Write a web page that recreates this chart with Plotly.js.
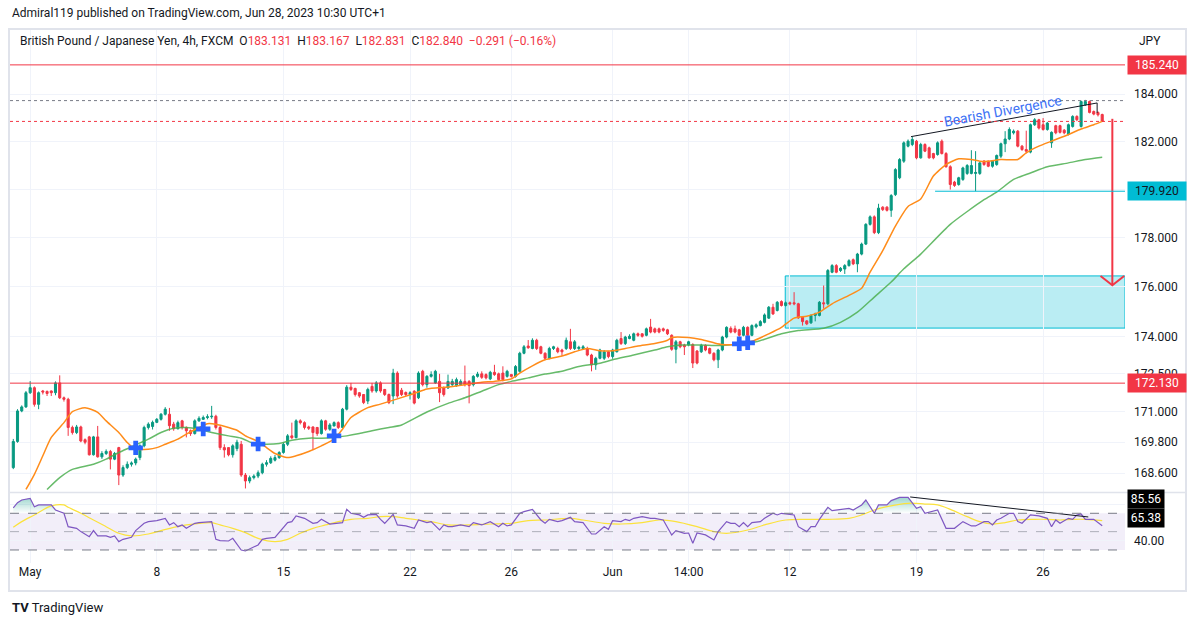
<!DOCTYPE html>
<html>
<head>
<meta charset="utf-8">
<script src="https://cdn.plot.ly/plotly-3.0.1.min.js"></script>
<style>
  html, body { margin: 0; padding: 0; background: #ffffff; }
  #chart { width: 1195px; height: 627px; }
</style>
</head>
<body>
<div id="chart"></div>
<script>
const opens = [
  168.81,169.83,171.03,171.19,171.75,171.95,171.29,171.82,171.80,171.82,
  171.75,172.14,171.55,171.49,170.38,170.18,170.40,169.90,170.01,169.31,
  170.01,169.23,169.36,169.44,169.14,169.59,168.52,168.81,168.94,168.99,
  169.20,169.66,170.38,170.42,170.58,170.70,170.90,170.90,170.51,170.33,
  170.64,170.38,170.25,170.14,170.64,170.70,170.77,170.80,170.82,170.38,
  169.59,169.59,169.31,169.55,169.72,168.52,168.29,168.42,168.48,168.61,
  168.94,169.00,169.10,169.20,169.40,169.72,170.05,169.98,170.64,170.57,
  170.40,170.40,170.38,170.14,170.64,170.31,170.44,170.57,170.38,171.10,
  171.97,171.92,171.75,171.68,171.42,172.00,171.82,172.14,171.88,171.68,
  171.62,172.53,171.85,171.76,171.68,171.81,171.55,172.60,172.07,172.40,
  172.14,172.20,171.94,171.94,172.07,172.03,172.07,172.20,172.20,172.07,
  172.40,172.50,172.47,172.30,172.56,172.50,172.53,172.40,172.47,172.40,
  172.60,173.32,173.61,173.51,173.84,173.58,173.32,173.12,173.51,173.51,
  173.45,173.51,173.78,173.51,173.51,173.51,173.51,173.25,172.86,173.12,
  173.12,173.38,173.19,173.38,173.91,173.71,173.91,173.84,174.10,174.10,
  174.04,174.37,174.30,174.30,174.30,174.26,174.04,173.48,173.78,173.65,
  173.65,173.67,173.41,173.38,173.64,173.51,173.32,173.06,173.45,173.97,
  174.32,174.30,174.26,174.04,174.36,174.04,174.38,174.43,174.56,174.73,
  175.17,175.04,175.40,175.24,175.35,175.35,175.31,174.77,174.62,174.54,
  174.84,174.84,175.35,175.31,176.59,176.86,176.66,176.72,176.86,177.10,
  176.93,177.33,177.74,178.55,178.86,178.21,179.26,179.26,179.13,179.78,
  180.48,181.17,181.80,181.87,182.01,181.31,181.87,181.73,181.49,181.45,
  182.01,181.49,180.94,180.30,180.20,180.41,180.66,180.66,180.66,180.66,
  181.17,181.17,180.96,181.03,181.38,181.90,182.10,182.36,182.43,181.80,
  181.66,181.55,182.70,182.91,182.70,182.50,181.94,182.66,182.66,182.47,
  182.29,182.63,183.05,182.63,183.54,183.68,183.26,183.22,183.131
];
const highs = [
  169.93,171.10,171.25,171.82,172.21,172.00,171.80,171.86,171.84,171.84,
  172.20,172.44,171.60,171.55,170.45,170.48,170.45,169.95,170.05,170.05,
  170.44,169.45,169.52,169.50,169.42,169.62,168.90,169.05,169.05,169.20,
  169.72,170.45,170.58,170.65,170.75,170.95,171.18,171.15,170.60,170.65,
  170.68,170.42,170.30,170.70,170.82,170.85,170.90,171.23,170.88,170.45,
  169.72,169.60,169.72,169.90,169.85,168.60,168.50,168.55,168.70,169.00,
  169.10,169.25,169.30,169.45,169.80,170.12,170.57,170.70,170.70,170.62,
  170.45,170.42,170.40,170.70,170.68,170.55,170.62,170.62,171.15,172.05,
  172.14,171.95,171.78,171.70,171.95,172.14,172.21,172.20,171.90,171.72,
  172.70,172.60,171.94,171.80,171.81,171.85,172.60,172.66,172.45,172.60,
  172.66,172.50,172.00,172.47,172.30,172.35,172.28,172.83,172.25,172.45,
  172.58,172.60,172.52,172.62,172.86,172.55,172.80,172.66,172.50,172.85,
  173.38,173.65,173.85,173.92,173.90,173.62,173.36,173.58,173.62,173.58,
  173.50,173.95,174.30,173.85,173.62,173.65,173.58,173.30,173.18,173.50,
  173.45,173.42,173.50,173.90,174.17,174.02,174.08,174.15,174.15,174.12,
  174.35,174.70,174.35,174.35,174.35,174.30,174.08,173.85,173.82,173.70,
  173.82,173.72,173.45,173.70,173.68,173.55,173.36,173.50,174.02,174.40,
  174.40,174.43,174.30,174.42,174.40,174.48,174.52,174.65,174.92,175.22,
  175.31,175.42,175.45,175.40,175.40,175.78,175.35,174.80,174.65,174.88,
  174.95,175.42,176.05,176.72,176.92,176.92,176.80,176.92,177.12,177.15,
  177.38,177.80,178.60,178.92,178.92,179.40,179.30,179.30,179.80,180.88,
  181.30,182.00,182.08,182.19,182.06,181.94,181.92,181.78,181.52,182.00,
  182.08,181.55,181.00,180.35,180.52,180.94,181.05,181.63,181.59,181.15,
  181.22,181.20,181.22,181.45,181.95,182.43,182.59,182.50,182.48,181.85,
  182.45,182.75,182.98,182.95,182.98,182.82,182.42,182.70,182.70,182.52,
  182.75,183.10,183.10,183.72,183.75,183.72,183.30,183.26,183.167
];
const lows = [
  168.75,169.78,170.98,171.15,171.70,171.20,171.10,171.68,171.62,171.62,
  171.65,171.50,171.40,170.05,170.10,170.12,169.80,169.72,169.28,169.28,
  169.20,169.15,169.30,168.74,169.10,168.13,168.45,168.75,168.85,168.90,
  169.10,169.60,170.30,170.30,170.55,170.65,170.85,170.25,170.25,170.30,
  170.30,169.99,170.05,170.10,170.60,170.68,170.70,170.72,170.30,169.50,
  169.20,169.25,169.20,169.45,168.45,168.00,168.20,168.35,168.40,168.55,
  168.85,168.95,169.05,169.15,169.35,169.65,169.92,169.95,170.50,170.30,
  170.28,169.49,170.05,170.10,170.25,170.25,170.42,170.32,170.35,171.05,
  171.82,171.60,171.55,171.30,171.30,171.75,171.75,171.75,171.62,171.30,
  171.30,171.55,171.62,171.62,171.48,171.29,171.50,172.00,171.95,172.35,
  172.10,171.38,171.60,171.90,172.00,171.98,172.02,172.00,171.33,172.00,
  172.35,172.30,172.28,172.25,172.42,172.22,172.20,172.35,172.35,172.35,
  172.55,173.28,173.50,173.48,173.45,173.28,173.05,173.08,173.45,173.32,
  173.22,173.45,173.45,173.45,173.45,173.48,173.20,172.60,172.66,173.08,
  173.05,173.12,173.10,173.35,173.65,173.65,173.88,173.80,173.98,173.95,
  174.00,174.12,174.12,174.12,174.18,174.05,173.42,172.92,173.52,173.25,
  173.60,172.73,172.88,173.33,173.40,173.28,173.00,172.73,173.40,173.92,
  174.12,174.12,173.98,174.00,173.98,174.00,174.32,174.40,174.52,174.70,
  174.86,175.00,175.20,175.20,175.25,175.25,174.70,174.43,174.45,174.50,
  174.60,174.80,175.11,175.25,176.55,176.55,176.60,176.52,176.82,176.88,
  176.59,177.28,177.70,178.50,178.15,178.15,179.10,179.08,178.86,179.72,
  180.42,181.10,181.75,181.80,181.25,181.28,181.55,181.28,181.25,181.40,
  181.45,180.90,179.99,180.10,180.15,180.35,180.60,180.62,179.92,180.60,
  180.98,180.92,180.90,180.98,181.30,181.55,182.05,182.29,181.75,181.60,
  181.50,181.50,182.65,182.50,182.45,182.45,181.73,182.30,182.33,182.30,
  182.25,182.58,182.85,182.58,183.50,183.18,183.10,183.05,182.831
];
const closes = [
  169.83,171.03,171.19,171.75,171.95,171.29,171.75,171.78,171.72,171.75,
  172.14,171.55,171.49,170.38,170.18,170.40,169.85,169.80,169.31,170.01,
  169.23,169.36,169.44,169.14,169.36,168.52,168.81,168.94,168.99,169.14,
  169.66,170.38,170.51,170.58,170.70,170.90,171.10,170.45,170.33,170.57,
  170.38,170.25,170.14,170.64,170.74,170.77,170.80,170.82,170.38,169.59,
  169.50,169.31,169.66,169.80,168.52,168.29,168.42,168.48,168.61,168.94,
  169.00,169.17,169.20,169.40,169.72,170.05,169.98,170.64,170.57,170.38,
  170.35,170.18,170.14,170.64,170.31,170.48,170.57,170.38,171.10,171.97,
  171.88,171.68,171.62,171.36,171.88,171.82,172.14,171.82,171.68,171.36,
  172.53,171.62,171.68,171.68,171.75,171.34,172.53,172.07,172.40,172.47,
  172.60,171.75,171.68,172.20,172.20,172.27,172.20,172.07,172.03,172.40,
  172.49,172.36,172.34,172.56,172.47,172.27,172.27,172.60,172.40,172.79,
  173.32,173.58,173.54,173.84,173.51,173.32,173.12,173.51,173.58,173.38,
  173.38,173.84,173.51,173.78,173.56,173.58,173.25,172.86,173.12,173.45,
  173.38,173.19,173.45,173.84,173.71,173.97,174.00,174.10,174.04,174.00,
  174.30,174.17,174.17,174.17,174.24,174.10,173.48,173.78,173.58,173.58,
  173.78,172.93,172.93,173.64,173.45,173.32,173.06,173.45,173.97,174.36,
  174.17,174.17,174.04,174.36,174.04,174.43,174.46,174.59,174.86,175.17,
  174.90,175.37,175.24,175.35,175.31,175.31,174.74,174.59,174.50,174.84,
  174.90,175.37,175.31,176.66,176.86,176.59,176.75,176.86,177.06,176.93,
  177.33,177.74,178.55,178.86,178.21,179.22,179.16,179.13,179.74,180.82,
  181.24,181.94,182.01,182.08,181.31,181.87,181.59,181.31,181.31,181.94,
  181.49,180.94,180.20,180.16,180.48,180.89,180.99,180.99,180.70,181.10,
  181.03,180.96,181.17,181.41,181.90,182.10,182.50,182.43,181.80,181.66,
  181.59,182.70,182.91,182.56,182.50,182.77,182.38,182.36,182.38,182.36,
  182.70,183.05,182.91,183.68,183.68,183.22,183.15,183.12,182.840
];

// orange (fast) and green (slow) moving averages, sampled at candle indexes
const fastMaIdx = [3,5,7,9,12,14,17,20,22,25,27,29,32,34,36,39,41,44,46,48,51,53,55,58,60,62,65,67,70,73,
  76,78,80,84,87,95,98,103,107,111,114,118,120,123,126,130,133,136,139,142,145,148,152,155,156,160,163,166,168,171,
  175,179,182,185,188,191,194,198,201,203,206,209,212,215,218,221,224,227,229,231,234,238,240,243,246,250,253,256,258];
const fastMa = [167.96,168.55,169.27,169.99,170.57,171.00,171.16,170.97,170.64,170.18,169.79,169.53,169.53,169.59,169.72,169.92,170.12,170.38,170.53,170.51,
  170.38,170.27,170.05,169.83,169.59,169.36,169.20,169.27,169.44,169.66,169.92,170.31,170.77,171.16,171.30,171.72,171.90,171.98,172.07,172.17,
  172.20,172.30,172.53,172.82,173.06,173.21,173.38,173.51,173.42,173.42,173.51,173.61,173.71,173.84,173.95,173.95,173.87,173.74,173.67,173.67,
  173.80,174.10,174.36,174.73,174.81,174.97,175.31,175.65,175.94,176.59,177.47,178.48,179.29,179.60,180.55,181.03,181.27,181.24,181.17,181.17,
  181.24,181.24,181.52,181.80,182.01,182.29,182.52,182.70,182.84];
const slowMaIdx = [8,11,14,19,22,25,28,32,35,38,41,44,47,51,54,57,60,63,66,70,73,76,79,82,85,89,92,98,103,107,
  111,115,118,122,126,130,134,139,142,147,152,155,158,163,168,176,182,186,192,196,200,204,208,211,215,222,230,233,237,241,
  245,250,254,258];
const slowMa = [167.96,168.42,168.74,168.94,169.14,169.40,169.62,169.92,170.18,170.35,170.38,170.31,170.18,170.05,169.96,169.75,169.72,169.75,169.88,169.96,
  169.96,169.99,170.05,170.14,170.25,170.38,170.48,170.99,171.33,171.55,171.81,172.07,172.20,172.34,172.49,172.60,172.79,172.92,173.06,173.25,
  173.45,173.58,173.65,173.65,173.63,173.78,174.10,174.23,174.32,174.56,174.97,175.58,176.19,176.73,177.33,178.55,179.57,179.88,180.41,180.68,
  180.94,181.10,181.24,181.34];

// moving-average crossover markers
const crossIdx = [29, 45, 58, 76, 172, 174];
const crossPrice = [169.58, 170.32, 169.73, 170.05, 173.70, 173.74];

// RSI pane
const rsiIdx = [0,1,2,4,5,6,8,9,10,12,13,15,16,18,19,20,22,23,24,25,26,28,29,31,32,34,36,37,38,39,
  40,41,43,44,47,48,49,51,52,54,55,58,59,60,62,63,65,66,67,69,70,71,72,73,75,77,78,79,80,82,
  83,84,86,87,88,90,91,93,95,96,98,99,101,102,103,104,106,108,109,111,113,115,116,117,118,120,121,123,125,126,
  127,129,130,132,133,135,137,138,140,141,142,144,145,146,147,149,151,152,154,156,157,159,160,161,162,164,166,167,169,170,
  171,172,173,174,175,177,178,180,181,182,185,186,188,189,190,191,193,194,197,198,199,201,202,204,205,207,208,210,212,214,
  215,216,219,221,223,225,227,228,230,231,232,233,234,236,237,238,239,241,243,245,246,247,248,250,251,252,253,254,256,258];
const rsi = [76.0,81.6,84.5,86.3,77.2,79.1,79.1,79.1,73.6,70.0,55.4,53.6,50.0,44.5,51.1,45.3,45.3,43.8,45.3,39.1,
  41.6,43.8,51.1,59.1,60.9,62.0,64.5,57.3,59.8,55.4,57.3,53.6,59.1,59.8,60.9,41.6,40.2,39.8,42.7,30.0,
  28.9,35.5,41.6,42.7,43.8,48.9,59.8,60.9,67.1,64.5,62.0,59.1,59.8,63.4,58.3,59.1,59.8,74.3,70.0,68.2,
  65.6,68.2,68.9,63.4,59.1,68.9,57.3,56.2,53.6,62.7,59.8,60.9,51.8,57.3,55.4,55.4,57.3,55.4,59.8,57.3,
  60.9,55.4,59.1,56.2,57.3,70.0,71.8,74.3,62.7,59.1,63.4,60.9,62.0,65.6,60.9,59.8,47.4,47.4,55.4,52.5,
  62.0,60.9,63.4,62.0,64.5,66.3,64.5,64.5,62.7,46.4,51.1,48.2,48.5,37.3,48.6,46.4,40.9,50.0,60.9,59.1,
  59.1,55.4,59.8,55.4,59.8,60.9,64.5,70.0,68.2,70.0,68.2,55.4,50.0,55.4,55.4,63.4,76.5,72.9,74.3,75.4,
  73.6,79.1,84.5,70.0,79.1,79.1,83.8,87.4,87.4,75.4,77.2,70.0,73.6,53.6,53.6,60.9,56.2,56.2,60.9,60.9,
  57.3,62.7,64.5,70.0,70.0,60.9,59.1,68.2,67.1,64.5,55.4,62.7,59.1,64.5,63.4,68.2,69.2,63.4,63.4,56.5];
const rsiMaIdx = [0,2,5,9,12,13,16,19,22,25,28,32,35,38,41,44,47,49,52,55,58,62,65,68,71,74,77,80,84,87,
  90,93,96,99,103,108,113,118,122,126,132,135,140,144,149,153,157,162,166,169,174,178,183,188,193,198,201,204,207,212,
  216,219,222,226,229,232,235,238,242,245,248,251,254,258];
const rsiMa = [54.7,60.9,68.2,78.0,79.1,76.5,70.0,62.7,55.4,48.2,45.3,47.4,51.1,54.7,57.3,59.1,59.8,57.3,53.6,48.9,
  42.7,39.1,41.6,48.2,53.6,57.3,60.9,63.4,64.5,66.3,66.3,64.5,62.7,60.9,57.3,57.3,58.3,59.1,62.0,62.7,
  64.5,62.7,59.1,58.3,59.8,62.7,60.9,55.4,50.0,48.2,51.8,57.3,62.7,63.4,63.4,64.5,68.2,73.6,77.2,80.9,
  80.1,79.1,74.3,66.3,60.9,58.3,59.8,62.7,63.4,63.4,62.7,63.4,63.4,62.0];

// time axis labels
const timeTickIdx = [4, 34, 64, 94, 118, 142, 160, 184, 214, 244];
const timeTickText = ['May', '8', '15', '22', '26', 'Jun', '14:00', '12', '19', '26'];

// price axis labels
const priceTicks = [168.6, 169.8, 171, 172.5, 174, 176, 178, 180, 182, 184];
const priceTickText = ['168.600', '169.800', '171.000', '172.500', '174.000', '176.000', '178.000', '', '182.000', '184.000'];

// drawn levels and tools
const upperLevel = 185.24;
const lowerLevel = 172.13;
const swingLow = 179.92;
const swingLowStart = 218.4;
const prevHigh = 183.72;
const lastClose = 182.84;
const zoneStart = 182.9, zoneTop = 176.44, zoneBottom = 174.33;
const priceDivX = [212.7, 256.8, 256.8], priceDivY = [182.20, 183.62, 183.20];
const rsiDivX = [212.5, 254.7], rsiDivY = [87.8, 66.0];
const arrowX = [260.4, 260.4], arrowY = [182.95, 176.07];
const arrowHeadX = [257.6, 260.4, 263.2], arrowHeadY = [176.44, 176.06, 176.44];
const rsiLabels = [85.56, 65.38];

const X_RANGE = [-0.78, 263.4];
const FONT = 'Roboto, "Liberation Sans", sans-serif';
const TEXT = '#131722';
const GRID = '#f0f3fa';
const RED = '#f23645';
const GREEN = '#089981';
const CYAN = '#00bcd4';

const idx = closes.map((_, i) => i);

const traces = [
  {
    type: 'candlestick', x: idx, open: opens, high: highs, low: lows, close: closes,
    xaxis: 'x', yaxis: 'y',
    increasing: { line: { color: GREEN, width: 1 }, fillcolor: GREEN },
    decreasing: { line: { color: RED, width: 1 }, fillcolor: RED },
    whiskerwidth: 0, hoverinfo: 'skip'
  },
  {
    x: slowMaIdx, y: slowMa, mode: 'lines', xaxis: 'x', yaxis: 'y',
    line: { color: 'rgba(76,175,80,0.85)', width: 1.5, shape: 'spline', smoothing: 0.6 }, hoverinfo: 'skip'
  },
  {
    x: fastMaIdx, y: fastMa, mode: 'lines', xaxis: 'x', yaxis: 'y',
    line: { color: '#ff8c1a', width: 1.5, shape: 'spline', smoothing: 0.6 }, hoverinfo: 'skip'
  },
  {
    x: crossIdx, y: crossPrice, mode: 'markers', xaxis: 'x', yaxis: 'y',
    marker: { symbol: 'cross', size: 12, color: '#2962ff', line: { width: 0 } }, hoverinfo: 'skip'
  },
  {
    x: priceDivX, y: priceDivY, mode: 'lines', xaxis: 'x', yaxis: 'y',
    line: { color: '#131722', width: 1 }, hoverinfo: 'skip'
  },
  {
    x: arrowX, y: arrowY, mode: 'lines', xaxis: 'x', yaxis: 'y',
    line: { color: RED, width: 2 }, hoverinfo: 'skip'
  },
  {
    x: arrowHeadX, y: arrowHeadY, mode: 'lines', xaxis: 'x', yaxis: 'y',
    line: { color: RED, width: 2 }, hoverinfo: 'skip'
  },
  // RSI overbought fill
  {
    x: rsiIdx, y: rsiIdx.map(() => 70), mode: 'lines', xaxis: 'x', yaxis: 'y2',
    line: { width: 0, color: 'rgba(0,0,0,0)' }, hoverinfo: 'skip'
  },
  {
    x: rsiIdx, y: rsi.map(v => Math.max(v, 70)), mode: 'lines', xaxis: 'x', yaxis: 'y2',
    line: { width: 0, color: 'rgba(0,0,0,0)' }, fill: 'tonexty',
    fillgradient: { type: 'vertical', start: 70, stop: 90,
      colorscale: [[0, 'rgba(8,153,129,0)'], [1, 'rgba(8,153,129,0.45)']] },
    hoverinfo: 'skip'
  },
  {
    x: rsiMaIdx, y: rsiMa, mode: 'lines', xaxis: 'x', yaxis: 'y2',
    line: { color: '#fbe23c', width: 1.2, shape: 'spline' }, hoverinfo: 'skip'
  },
  {
    x: rsiIdx, y: rsi, mode: 'lines', xaxis: 'x', yaxis: 'y2',
    line: { color: '#7e57c2', width: 1.2 }, hoverinfo: 'skip'
  },
  {
    x: rsiDivX, y: rsiDivY, mode: 'lines', xaxis: 'x', yaxis: 'y2',
    line: { color: '#131722', width: 1 }, hoverinfo: 'skip'
  }
];

function hline(y, color, dash, yref, x0) {
  return {
    type: 'line', xref: 'x', yref: yref || 'y', x0: x0 === undefined ? X_RANGE[0] : x0, x1: X_RANGE[1],
    y0: y, y1: y, line: { color: color, width: 1, dash: dash || 'solid' }, layer: 'above'
  };
}

const shapes = [
  // RSI band
  { type: 'rect', xref: 'paper', yref: 'y2', x0: 0, x1: 1, y0: 30, y1: 70,
    fillcolor: 'rgba(126,87,194,0.1)', line: { width: 0 }, layer: 'below' },
  hline(70, '#787b86', 'dash', 'y2'),
  hline(50, 'rgba(120,123,134,0.55)', 'dash', 'y2'),
  hline(30, '#787b86', 'dash', 'y2'),
  // price levels
  hline(upperLevel, RED),
  hline(lowerLevel, RED),
  hline(prevHigh, '#787b86', 'dot'),
  hline(lastClose, RED, 'dot'),
  { type: 'rect', xref: 'x', yref: 'y', x0: zoneStart, x1: X_RANGE[1], y0: zoneBottom, y1: zoneTop,
    fillcolor: 'rgba(0,188,212,0.27)', line: { color: CYAN, width: 1 }, layer: 'below' },
  hline(swingLow, CYAN, 'solid', 'y', swingLowStart),
  // frame and pane separator
  { type: 'rect', xref: 'paper', yref: 'paper', x0: -0.0009, x1: 1.0547, y0: -0.0525, y1: 1.0019,
    line: { color: '#e0e3eb', width: 2 } },
  { type: 'line', xref: 'paper', yref: 'paper', x0: -0.0009, x1: 1.0547, y0: 0.1322, y1: 0.1322,
    line: { color: '#e0e3eb', width: 1.5 } }
];

function priceBox(v, bg, fg, yref, width) {
  return {
    xref: 'paper', x: 1.0018, xanchor: 'left',
    yref: yref, y: yref === 'y' ? Math.log10(v) : v, yanchor: 'middle',
    text: yref === 'y' ? v.toFixed(3) : v.toFixed(2),
    showarrow: false, bgcolor: bg, borderpad: 2, width: width,
    font: { family: FONT, size: 12, color: fg }
  };
}

const red = s => `<span style="color:${RED}">${s}</span>`;

const annotations = [
  { xref: 'paper', yref: 'paper', x: 0, y: 1.031, xanchor: 'left', yanchor: 'middle', showarrow: false,
    text: 'Admiral119 published on TradingView.com, Jun 28, 2023 10:30 UTC+1',
    font: { family: FONT, size: 12, color: TEXT } },
  { xref: 'paper', yref: 'paper', x: 0.0072, y: 0.9794, xanchor: 'left', yanchor: 'middle', showarrow: false,
    text: 'British Pound / Japanese Yen, 4h, FXCM  O' + red('183.131') + '  H' + red('183.167') +
      '  L' + red('182.831') + '  C' + red('182.840') + '  ' + red('−0.291 (−0.16%)'),
    font: { family: FONT, size: 12, color: TEXT } },
  { xref: 'paper', yref: 'paper', x: 1.0108, y: 0.9794, xanchor: 'left', yanchor: 'middle', showarrow: false,
    text: 'JPY', font: { family: FONT, size: 12, color: TEXT } },
  { xref: 'paper', yref: 'paper', x: 0, y: -0.0844, xanchor: 'left', yanchor: 'middle', showarrow: false,
    text: '<b>TV</b> TradingView', font: { family: FONT, size: 13, color: TEXT } },
  { xref: 'x', yref: 'y', x: 234.3, y: Math.log10(183.30), showarrow: false, textangle: -10.5,
    text: 'Bearish Divergence', font: { family: FONT, size: 14, color: '#3d72f5' } },
  priceBox(upperLevel, RED, '#ffffff', 'y', 54),
  priceBox(swingLow, CYAN, TEXT, 'y', 54),
  priceBox(lowerLevel, RED, '#ffffff', 'y', 54),
  priceBox(rsiLabels[0], '#000000', '#ffffff', 'y2', 32),
  priceBox(rsiLabels[1], '#000000', '#ffffff', 'y2', 32)
];

const layout = {
  width: 1195, height: 627,
  margin: { l: 10, r: 70, t: 30, b: 64 },
  paper_bgcolor: '#ffffff', plot_bgcolor: '#ffffff',
  showlegend: false,
  font: { family: FONT, size: 12, color: TEXT },
  xaxis: {
    range: X_RANGE, anchor: 'y2', tickvals: timeTickIdx, ticktext: timeTickText,
    showgrid: true, gridcolor: GRID, zeroline: false, showline: false, ticks: '',
    tickfont: { family: FONT, size: 12, color: TEXT }, rangeslider: { visible: false }, fixedrange: true
  },
  yaxis: {
    type: 'log', domain: [0.1332, 1], anchor: 'x', side: 'right',
    range: [2.224954, 2.271228], tickvals: priceTicks, ticktext: priceTickText,
    showgrid: true, gridcolor: GRID, zeroline: false, showline: false, ticks: '',
    ticklabelstandoff: 8, tickfont: { family: FONT, size: 12, color: TEXT }, fixedrange: true
  },
  yaxis2: {
    domain: [0, 0.1313], anchor: 'x', side: 'right', range: [15.8, 92.1],
    tickvals: [40, 80], ticktext: ['40.00', ''],
    showgrid: true, gridcolor: GRID, zeroline: false, showline: false, ticks: '',
    ticklabelstandoff: 8, tickfont: { family: FONT, size: 12, color: TEXT }, fixedrange: true
  },
  shapes: shapes,
  annotations: annotations
};

Plotly.newPlot('chart', traces, layout, { displayModeBar: false, staticPlot: true });
</script>
</body>
</html>
